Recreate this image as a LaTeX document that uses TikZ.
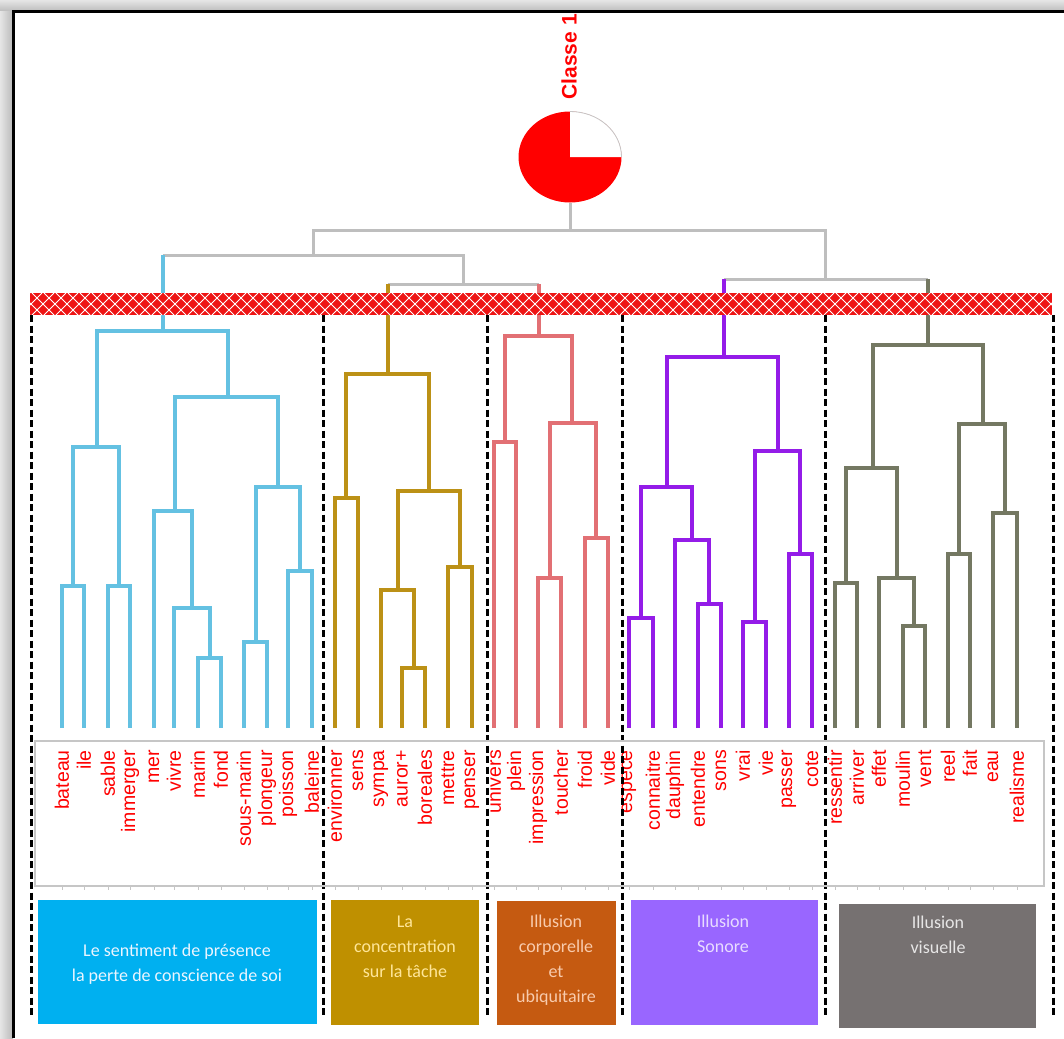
\documentclass[tikz,border=0pt]{standalone}
\usepackage{fontspec}
\setmainfont{Liberation Sans}
\newfontfamily\boxfont{Carlito}
\usetikzlibrary{shapes.geometric}
\definecolor{cBlue}{RGB}{100,193,226}
\definecolor{cGold}{RGB}{188,145,22}
\definecolor{cPink}{RGB}{226,112,116}
\definecolor{cPurp}{RGB}{148,28,232}
\definecolor{cOlive}{RGB}{116,120,98}
\definecolor{cTree}{RGB}{190,190,190}
\definecolor{bandRed}{RGB}{238,20,20}
\definecolor{bBlue}{RGB}{0,176,240}
\definecolor{bGold}{RGB}{191,144,0}
\definecolor{bOrange}{RGB}{197,90,17}
\definecolor{bPurp}{RGB}{153,102,255}
\definecolor{bGray}{RGB}{118,113,113}
\definecolor{tBlue}{RGB}{235,245,255}
\definecolor{tGold}{RGB}{255,230,153}
\definecolor{tOrange}{RGB}{248,203,173}
\definecolor{tPurp}{RGB}{232,220,255}
\definecolor{tGray}{RGB}{231,230,230}
\begin{document}
\begin{tikzpicture}[x=1pt,y=-1pt,
  tree/.style={draw=cTree,line width=3pt},
  blu/.style={draw=cBlue,line width=3.3pt},
  gld/.style={draw=cGold,line width=3.3pt},
  pnk/.style={draw=cPink,line width=3.3pt},
  pur/.style={draw=cPurp,line width=3.3pt},
  olv/.style={draw=cOlive,line width=3.3pt},
  word/.style={text=red,font=\fontsize{19.5}{20}\selectfont,rotate=90,anchor=east,inner sep=0pt},
  dashv/.style={draw=black,line width=3pt,dash pattern=on 7pt off 3.5pt},
  boxn/.style={anchor=north west,inner sep=0pt,draw=none},
  boxt/.style={font=\boxfont\fontsize{18}{25}\selectfont,align=center,anchor=base,inner sep=0pt}]
\useasboundingbox (0,0) rectangle (1064,1038);
% frame and shadow
\fill[white] (0,0) rectangle (1064,1038);
\shade[top color=gray!20,bottom color=gray!55] (0,0) rectangle (1064,12);
\shade[left color=gray!20,right color=gray!55] (0,12) rectangle (13,1038);
\draw[black,line width=3pt] (13,1038) -- (13,12) -- (1064,12);

% pie and title
\node[ellipse,fill=red,minimum width=103pt,minimum height=91pt,inner sep=0pt] (pie) at (570,157) {};
\fill[white] (570,157) -- (621.5,157) arc[start angle=0,end angle=-90,x radius=51.5,y radius=45.5] -- cycle;
\draw[gray!45,line width=0.8pt] (621.5,157) arc[start angle=0,end angle=-90,x radius=51.5,y radius=45.5];
\node[font=\bfseries\fontsize{21}{21}\selectfont,text=red,rotate=90,anchor=east,inner sep=0pt] (cls) at (569,14) {Classe 1};

% leaves
\foreach \n/\x/\w in {a1/62/bateau,a2/84/ile,a3/108/sable,a4/130/immerger,a5/154/mer,a6/174/vivre,a7/198/marin,a8/221/fond,a9/244/sous-marin,a10/267/plongeur,a11/288/poisson,a12/312/baleine,
 b1/335/environner,b2/358/sens,b3/381/sympa,b4/402/auror+,b5/425/boreales,b6/448/mettre,b7/472/penser,
 c1/494/univers,c2/516/plein,c3/538/impression,c4/561/toucher,c5/585/froid,c6/608/vide,
 d1/629/espece,d2/653/connaitre,d3/675/dauphin,d4/698/entendre,d5/721/sons,d6/743/vrai,d7/766/vie,d8/789/passer,d9/812/cote,
 e1/835/ressentir,e2/857/arriver,e3/879/effet,e4/903/moulin,e5/925/vent,e6/948/reel,e7/970/fait,e8/993/eau,e9/1017/realisme}{
  \coordinate (\n) at (\x,728);
  \node[word] (w\n) at (\x,750) {\w};
  \draw[gray!45,line width=1pt] (\x,887) -- (\x,890);
}

% cluster 1
\coordinate (m1a) at (73,586);  \draw[blu] (a1) |- (m1a) -| (a2);
\coordinate (m1b) at (119,586); \draw[blu] (a3) |- (m1b) -| (a4);
\coordinate (m1c) at (97,447);  \draw[blu] (m1a) |- (m1c) -| (m1b);
\coordinate (m1d) at (210,658); \draw[blu] (a7) |- (m1d) -| (a8);
\coordinate (m1e) at (192,608); \draw[blu] (a6) |- (m1e) -| (m1d);
\coordinate (m1f) at (175,511); \draw[blu] (a5) |- (m1f) -| (m1e);
\coordinate (m1g) at (256,642); \draw[blu] (a9) |- (m1g) -| (a10);
\coordinate (m1h) at (300,571); \draw[blu] (a11) |- (m1h) -| (a12);
\coordinate (m1i) at (278,487); \draw[blu] (m1g) |- (m1i) -| (m1h);
\coordinate (m1j) at (228,397); \draw[blu] (m1f) |- (m1j) -| (m1i);
\coordinate (m1k) at (163,331); \draw[blu] (m1c) |- (m1k) -| (m1j);
% cluster 2
\coordinate (m2a) at (346,498); \draw[gld] (b1) |- (m2a) -| (b2);
\coordinate (m2b) at (414,668); \draw[gld] (b4) |- (m2b) -| (b5);
\coordinate (m2c) at (398,590); \draw[gld] (b3) |- (m2c) -| (m2b);
\coordinate (m2d) at (460,567); \draw[gld] (b6) |- (m2d) -| (b7);
\coordinate (m2e) at (429,491); \draw[gld] (m2c) |- (m2e) -| (m2d);
\coordinate (m2f) at (388,374); \draw[gld] (m2a) |- (m2f) -| (m2e);
% cluster 3
\coordinate (m3a) at (505,442); \draw[pnk] (c1) |- (m3a) -| (c2);
\coordinate (m3b) at (550,578); \draw[pnk] (c3) |- (m3b) -| (c4);
\coordinate (m3c) at (596,538); \draw[pnk] (c5) |- (m3c) -| (c6);
\coordinate (m3d) at (572,423); \draw[pnk] (m3b) |- (m3d) -| (m3c);
\coordinate (m3e) at (539,336); \draw[pnk] (m3a) |- (m3e) -| (m3d);
% cluster 4
\coordinate (m4a) at (641,618); \draw[pur] (d1) |- (m4a) -| (d2);
\coordinate (m4b) at (709,604); \draw[pur] (d4) |- (m4b) -| (d5);
\coordinate (m4c) at (692,540); \draw[pur] (d3) |- (m4c) -| (m4b);
\coordinate (m4d) at (667,487); \draw[pur] (m4a) |- (m4d) -| (m4c);
\coordinate (m4e) at (755,622); \draw[pur] (d6) |- (m4e) -| (d7);
\coordinate (m4f) at (800,554); \draw[pur] (d8) |- (m4f) -| (d9);
\coordinate (m4g) at (778,451); \draw[pur] (m4e) |- (m4g) -| (m4f);
\coordinate (m4h) at (724,357); \draw[pur] (m4d) |- (m4h) -| (m4g);
% cluster 5
\coordinate (m5a) at (846,583); \draw[olv] (e1) |- (m5a) -| (e2);
\coordinate (m5b) at (914,626); \draw[olv] (e4) |- (m5b) -| (e5);
\coordinate (m5c) at (897,578); \draw[olv] (e3) |- (m5c) -| (m5b);
\coordinate (m5d) at (873,468); \draw[olv] (m5a) |- (m5d) -| (m5c);
\coordinate (m5e) at (959,554); \draw[olv] (e6) |- (m5e) -| (e7);
\coordinate (m5f) at (1005,513); \draw[olv] (e8) |- (m5f) -| (e9);
\coordinate (m5g) at (983,424); \draw[olv] (m5e) |- (m5g) -| (m5f);
\coordinate (m5h) at (928,345); \draw[olv] (m5d) |- (m5h) -| (m5g);

% upper gray tree
\coordinate (g0) at (570,230);
\coordinate (gL) at (313,255);
\coordinate (gR) at (825,279);
\coordinate (gM) at (463,284);
\draw[tree] (pie.south) -- (g0);
\draw[tree] (gL) |- (g0) -| (gR);
\draw[tree] (m1k |- gL) -- (gL) -| (gM);
\draw[tree] (m2f |- gM) -- (m3e |- gM);
\draw[tree] (m4h |- gR) -- (m5h |- gR);
\draw[blu] (m1k) -- (m1k |- gL);
\draw[gld] (m2f) -- (m2f |- gM);
\draw[pnk] (m3e) -- (m3e |- gM);
\draw[pur] (m4h) -- (m4h |- gR);
\draw[olv] (m5h) -- (m5h |- gR);

% hatched band
\begin{scope}
\clip (30,293) rectangle (1052,315);
\fill[bandRed] (30,293) rectangle (1052,315);
\foreach \i in {0,...,88}{
  \draw[white,line width=0.9pt] ({8+12*\i},293) -- ++(22,22);
  \draw[white,line width=0.9pt] ({8+12*\i},315) -- ++(22,-22);
}
\end{scope}

% dashed separators
\foreach \x in {31,323,487,622,825,1053}{
  \draw[dashv] (\x,315) -- (\x,1016);
}

% label frame
\draw[gray!45,line width=1.5pt] (35,741) rectangle (1044,886);

% theme boxes
\node[boxn,fill=bBlue,minimum width=279pt,minimum height=124pt] (k1) at (38,900) {};
\node[boxn,fill=bGold,minimum width=148pt,minimum height=125pt] (k2) at (331,900) {};
\node[boxn,fill=bOrange,minimum width=119pt,minimum height=124pt] (k3) at (497,901) {};
\node[boxn,fill=bPurp,minimum width=187pt,minimum height=125pt] (k4) at (631,900) {};
\node[boxn,fill=bGray,minimum width=197pt,minimum height=124pt] (k5) at (839,904) {};
\node[boxt,text=tBlue] (t1) at (177,981) {Le sentiment de présence\\la perte de conscience de soi};
\node[boxt,text=tGold] (t2) at (405,977) {La\\concentration\\sur la tâche};
\node[boxt,text=tOrange] (t3) at (556,1002) {Illusion\\corporelle\\et\\ubiquitaire};
\node[boxt,text=tPurp] (t4) at (723,952) {Illusion\\Sonore};
\node[boxt,text=tGray] (t5) at (938,953) {Illusion\\visuelle};
\end{tikzpicture}
\end{document}
